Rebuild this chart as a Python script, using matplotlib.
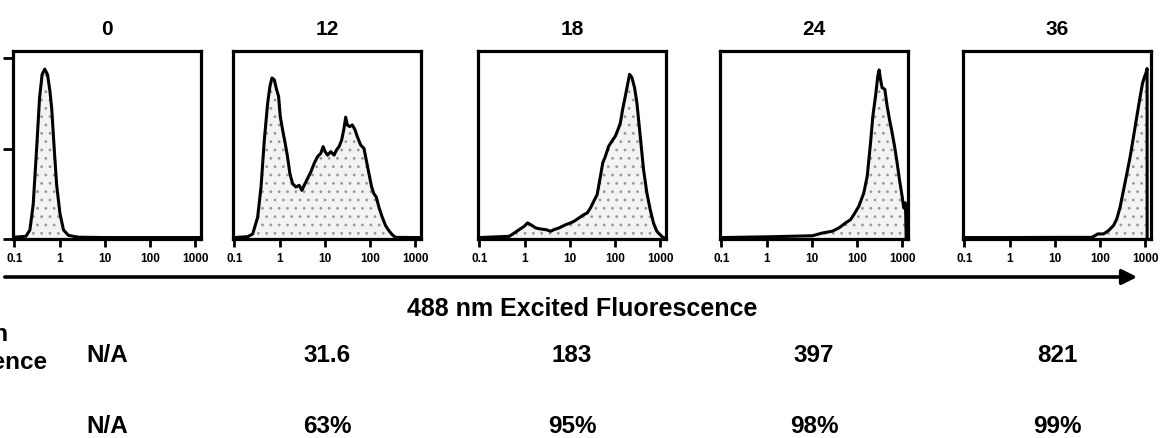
import matplotlib
matplotlib.use("Agg")
import matplotlib.pyplot as plt
from matplotlib.patches import FancyArrowPatch

plt.rcParams['font.family'] = ['Liberation Sans', 'DejaVu Sans']
plt.rcParams['font.weight'] = 'bold'
plt.rcParams['hatch.linewidth'] = 0.8

W, H = 1162, 439

# time points (panel titles)
TIMES = ["0", "12", "18", "24", "36"]

# histogram traces: fluorescence (log axis) vs relative count
FL_0 = [0.1, 0.18, 0.22, 0.26, 0.31, 0.36, 0.41, 0.47, 0.54, 0.61, 0.67, 0.76, 0.86, 1.02, 1.22, 1.57, 2.6, 10, 100, 1000, 1250]
CNT_0 = [1, 1.5, 5, 19, 50, 78, 91, 94, 91, 82, 72, 50, 30, 14, 5, 2, 1, 0.8, 0.8, 0.8, 0.8]

FL_12 = [0.1, 0.197, 0.254, 0.327, 0.388, 0.459, 0.544, 0.612, 0.677, 0.762, 0.859, 0.95, 1.035, 1.165, 1.33,
         1.5, 1.69, 1.94, 2.29, 2.72, 3.11, 3.5, 4.15, 4.91, 5.82, 6.89, 8.16, 9.19, 10.2, 11.5, 13.6, 16.1,
         18.1, 20.7, 23.7, 26.7, 29.0, 31.6, 35.6, 40.7, 46.7, 52.6, 62.3, 73.8, 80.2, 95, 109, 122, 138,
         158, 187, 222, 263, 311, 368, 1000, 1250]
CNT_12 = [0.8, 1.3, 2.8, 12.1, 28.8, 54.8, 75.2, 84.5, 89.1, 88.1, 82.6, 78.9, 67.8, 60.4, 52.9,
          45.5, 36.2, 30.6, 28.8, 29.7, 26.9, 29.7, 33.4, 37.1, 41.8, 45.5, 47.4, 51.1, 48.3, 46.4, 48.3, 46.4,
          49.2, 51.1, 54.8, 61.3, 67.4, 63.1, 62.2, 63.1, 60.4, 56.6, 52.0, 50.1, 45.5, 36.2, 28.8, 25.1, 23.2,
          17.6, 12.1, 7.4, 4.6, 2.4, 0.9, 0.8, 0.8]

FL_18 = [0.1, 0.458, 0.59, 0.76, 0.979, 1.16, 1.37, 1.77, 2.28, 2.94, 3.78, 4.48, 5.77, 8.09, 10.4, 12.4,
         15.9, 20.5, 24.3, 28.8, 34.0, 40.4, 47.8, 53.7, 61.5, 72.8, 86.3, 102, 117, 132, 148, 170, 194,
         211, 238, 272, 306, 363, 430, 509, 603, 713, 845, 1000, 1183, 1250]
CNT_18 = [0.8, 1.5, 3.3, 5.2, 7.0, 8.9, 7.9, 6.1, 5.5, 5.2, 4.3, 5.2, 6.1, 7.9, 8.9, 9.8,
          11.6, 13.5, 14.4, 17.2, 20.9, 24.6, 34.8, 42.1, 45.8, 51.4, 54.2, 56.9, 60.6, 64.3, 71.7, 79.1, 86.5,
          91.1, 89.3, 83.7, 75.4, 56.9, 38.4, 25.5, 16.3, 8.9, 4.3, 2.4, 0.6, 0.6]

FL_24 = [0.1, 1, 10.3, 17.1, 28.4, 39.8, 56.0, 72.1, 85.5, 110, 142, 169, 200, 225, 258, 290, 310, 332,
         361, 414, 466, 525, 601, 689, 776, 873, 1000, 1089, 1186, 1230]
CNT_24 = [0.8, 1.2, 1.8, 3.3, 4.3, 6.1, 8.9, 10.7, 13.5, 18.1, 25.5, 34.8, 53.2, 68.0, 79.1, 90.2, 93.5, 88.4,
          83.7, 82.8, 73.6, 66.2, 58.8, 50.5, 42.1, 32.9, 23.7, 17.2, 20.0, 0.5]

FL_36 = [0.1, 1, 10, 65.9, 89.5, 120, 154, 199, 236, 279, 331, 393, 465, 552, 653, 774, 873, 966, 1035,
         1107, 1110]
CNT_36 = [0.8, 0.8, 0.9, 0.9, 2.8, 2.8, 4.6, 7.4, 11.1, 17.6, 26.8, 36.0, 45.3, 56.4, 67.5, 78.6, 86.0, 89.6,
          91.5, 94.3, 0.5]

# table below the histograms
MEAN_FL = ["N/A", "31.6", "183", "397", "821"]
PCT_POS = ["N/A", "63%", "95%", "98%", "99%"]
XTICKS = [0.1, 1, 10, 100, 1000]
XTICKLABELS = ["0.1", "1", "10", "100", "1000"]

traces = [(FL_0, CNT_0), (FL_12, CNT_12), (FL_18, CNT_18), (FL_24, CNT_24), (FL_36, CNT_36)]
lefts = [13, 233, 478, 720, 963]
pw, top, bottom = 188, 52, 240

fig = plt.figure(figsize=(W / 100, H / 100), dpi=100)


def fx(px):
    return px / W


def fy(py):
    return 1 - py / H


for i, (fl, cnt) in enumerate(traces):
    ax = fig.add_axes([fx(lefts[i]), fy(bottom), pw / W, (bottom - top) / H])
    ax.set_xscale("log")
    ax.set_xlim(0.093, 1350)
    ax.set_ylim(0, 104)
    ax.fill_between(fl, 0, cnt, facecolor="#f3f3f3", edgecolor="#999999", hatch="..", linewidth=0)
    ax.plot(fl, cnt, color="black", linewidth=2.2, solid_joinstyle="round")
    for s in ax.spines.values():
        s.set_linewidth(2.3)
    ax.set_xticks(XTICKS)
    ax.set_xticklabels(XTICKLABELS, fontsize=8.5, fontweight="bold")
    ax.minorticks_off()
    ax.tick_params(axis="x", direction="out", length=6, width=2, pad=3)
    if i == 0:
        ax.set_yticks([0, 50, 100])
        ax.set_yticklabels([])
        ax.tick_params(axis="y", direction="out", length=7, width=2)
    else:
        ax.set_yticks([])
    c = lefts[i] + pw / 2
    fig.text(fx(c), fy(35), TIMES[i], ha="center", va="baseline", fontsize=15, fontweight="bold")
    fig.text(fx(c), fy(362), MEAN_FL[i], ha="center", va="baseline", fontsize=17.5, fontweight="bold")
    fig.text(fx(c), fy(433), PCT_POS[i], ha="center", va="baseline", fontsize=17.5, fontweight="bold")

# long axis arrow under the panels
fig.add_artist(FancyArrowPatch(
    (fx(2), fy(278)), (fx(1140), fy(278)), transform=fig.transFigure,
    arrowstyle="-|>,head_length=6,head_width=3", linewidth=2.6, color="black", mutation_scale=1.5))

fig.text(fx(582), fy(316), "488 nm Excited Fluorescence", ha="center", va="baseline",
         fontsize=18, fontweight="bold")
# row label, mostly cropped off the left edge in the original
fig.text(fx(8), fy(341), "Mean", ha="right", va="baseline", fontsize=17.5, fontweight="bold")
fig.text(fx(47), fy(369), "Fluorescence", ha="right", va="baseline", fontsize=17.5, fontweight="bold")

fig.savefig("out.png", dpi=100)
